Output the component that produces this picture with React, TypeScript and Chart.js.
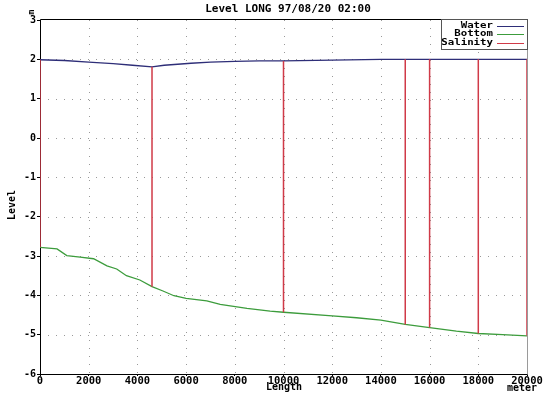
import React, { useEffect, useRef } from "react";
import { Chart, registerables } from "chart.js";

Chart.register(...registerables);

const waterX = [0, 1000, 2000, 3000, 3800, 4600, 5100, 6200, 7000, 8000, 9000, 10000, 12000, 14000, 15000, 16000, 18000, 20000];
const waterY = [1.99, 1.97, 1.93, 1.89, 1.85, 1.81, 1.85, 1.9, 1.93, 1.95, 1.96, 1.96, 1.98, 2.0, 2.0, 2.0, 2.0, 2.0];

const bottomX = [0, 700, 1100, 1650, 2200, 2750, 3150, 3550, 4100, 4600, 5050, 5500, 6000, 6850, 7400, 8500, 9450, 10000, 12000, 13000, 14000, 15000, 16000, 17100, 18000, 19000, 20000];
const bottomY = [-2.78, -2.82, -2.99, -3.03, -3.07, -3.25, -3.33, -3.5, -3.61, -3.78, -3.89, -4.01, -4.08, -4.14, -4.23, -4.33, -4.4, -4.43, -4.52, -4.57, -4.63, -4.74, -4.82, -4.91, -4.97, -5.0, -5.03];

const salinityX = [0, 4600, 10000, 15000, 16000, 18000, 20000];
const salinityTop = [1.99, 1.81, 1.96, 2.0, 2.0, 2.0, 2.0];
const salinityBottom = [-2.78, -3.78, -4.43, -4.74, -4.82, -4.97, -5.03];

const yTicks = [-6, -5, -4, -3, -2, -1, 0, 1, 2, 3];
const xTicks = [0, 2000, 4000, 6000, 8000, 10000, 12000, 14000, 16000, 18000, 20000];

const titleText = "Level LONG 97/08/20 02:00";
const legendNames = ["Water", "Bottom", "Salinity"];
const WATER = "#2e2e78";
const BOTTOM = "#3c9c3c";
const SAL = "#d03a48";
const legendColors = [WATER, BOTTOM, SAL];
const MONO = "'DejaVu Sans Mono', monospace";

export default function App() {
  const ref = useRef<HTMLCanvasElement | null>(null);
  useEffect(() => {
    if (!ref.current) return;
    const salData: any[] = [];
    salinityX.forEach((x, i) => {
      salData.push({ x, y: salinityTop[i] });
      salData.push({ x, y: salinityBottom[i] });
      if (i < salinityX.length - 1) salData.push({ x, y: null });
    });
    const extras = {
      id: "extras",
      beforeDatasetsDraw(chart: any) {
        const { ctx, chartArea: a, scales } = chart;
        ctx.save();
        ctx.strokeStyle = "#999";
        ctx.lineWidth = 1;
        ctx.setLineDash([1, 7]);
        for (const v of yTicks) {
          if (v === -6 || v === 3) continue;
          const y = Math.round(scales.y.getPixelForValue(v)) + 0.5;
          ctx.beginPath();
          ctx.moveTo(a.left, y);
          ctx.lineTo(a.right, y);
          ctx.stroke();
        }
        for (const v of xTicks) {
          if (v === 0) continue;
          const x = Math.round(scales.x.getPixelForValue(v)) + 0.5;
          ctx.beginPath();
          ctx.moveTo(x, a.top);
          ctx.lineTo(x, a.bottom);
          ctx.stroke();
        }
        ctx.setLineDash([]);
        ctx.strokeStyle = "#000";
        const l = Math.round(a.left) + 0.5;
        const t = Math.round(a.top) - 0.5;
        const b = Math.round(a.bottom) + 0.5;
        const r = Math.round(a.right) + 0.5;
        ctx.beginPath();
        ctx.moveTo(l, t);
        ctx.lineTo(r, t);
        ctx.moveTo(l, t);
        ctx.lineTo(l, b);
        ctx.lineTo(r, b);
        ctx.stroke();
        ctx.strokeStyle = "#9a9a9a";
        ctx.beginPath();
        ctx.moveTo(r, t);
        ctx.lineTo(r, b);
        ctx.stroke();
        ctx.restore();
      },
      afterDraw(chart: any) {
        const { ctx, chartArea: a } = chart;
        ctx.save();
        ctx.fillStyle = "#000";
        ctx.font = `bold 11px ${MONO}`;
        ctx.textAlign = "center";
        ctx.textBaseline = "middle";
        ctx.fillText(titleText, 288, 9);
        // legend
        ctx.fillStyle = "#fff";
        ctx.fillRect(441, 20, a.right - 441, 30);
        ctx.strokeStyle = "#555";
        ctx.lineWidth = 1;
        ctx.strokeRect(441.5, 19.5, a.right - 441, 30);
        ctx.font = `bold 9.5px ${MONO}`;
        ctx.textAlign = "right";
        legendNames.forEach((n, i) => {
          const y = 25.5 + i * 8.5;
          ctx.fillStyle = "#000";
          ctx.save();
          ctx.translate(493, y);
          ctx.scale(1.13, 1);
          ctx.fillText(n, 0, 0);
          ctx.restore();
          ctx.strokeStyle = legendColors[i];
          ctx.beginPath();
          ctx.moveTo(497, Math.round(y) + 0.5);
          ctx.lineTo(524, Math.round(y) + 0.5);
          ctx.stroke();
        });
        // axis titles
        ctx.fillStyle = "#000";
        ctx.font = `bold 10px ${MONO}`;
        ctx.textAlign = "center";
        ctx.fillText("Length", 284, 387.5);
        ctx.fillText("meter", 522, 388);
        ctx.save();
        ctx.translate(12, 205);
        ctx.rotate(-Math.PI / 2);
        ctx.fillText("Level", 0, 0);
        ctx.restore();
        ctx.save();
        ctx.translate(32, 12);
        ctx.rotate(-Math.PI / 2);
        ctx.font = `bold 8px ${MONO}`;
        ctx.fillText("m", 0, 0);
        ctx.restore();
        ctx.restore();
      },
    };
    const chart = new Chart(ref.current, {
      type: "line",
      data: {
        datasets: [
          {
            label: "Salinity",
            data: salData,
            borderColor: SAL,
            borderWidth: 1.5,
            pointRadius: 0,
            spanGaps: false,
            tension: 0,
          },
          {
            label: "Water",
            data: waterX.map((x, i) => ({ x, y: waterY[i] })),
            borderColor: WATER,
            borderWidth: 1.3,
            pointRadius: 0,
            tension: 0,
          },
          {
            label: "Bottom",
            data: bottomX.map((x, i) => ({ x, y: bottomY[i] })),
            borderColor: BOTTOM,
            borderWidth: 1.3,
            pointRadius: 0,
            tension: 0,
          },
        ],
      },
      options: {
        animation: false,
        responsive: false,
        devicePixelRatio: 1,
        layout: { padding: { top: 20, right: 18, left: 0, bottom: 0 } },
        plugins: { legend: { display: false }, tooltip: { enabled: false }, title: { display: false } },
        scales: {
          x: {
            type: "linear",
            min: 0,
            max: 20000,
            afterFit: (s: any) => {
              s.height = 19;
            },
            afterBuildTicks: (s: any) => {
              s.ticks = xTicks.map((v) => ({ value: v }));
            },
            ticks: {
              font: { family: MONO, size: 10.5, weight: "bold" },
              color: "#000",
              padding: -1,
              maxRotation: 0,
              autoSkip: false,
              callback: (v: any) => String(v),
            },
            grid: { drawOnChartArea: false, tickLength: 2, color: "#000" },
            border: { display: false },
          },
          y: {
            type: "linear",
            min: -6,
            max: 3,
            afterFit: (s: any) => {
              s.width = 40;
            },
            afterBuildTicks: (s: any) => {
              s.ticks = yTicks.map((v) => ({ value: v }));
            },
            ticks: {
              font: { family: MONO, size: 10, weight: "bold" },
              color: "#000",
              padding: 1,
              autoSkip: false,
              callback: (v: any) => String(v),
            },
            grid: { drawOnChartArea: false, tickLength: 3, color: "#000" },
            border: { display: false },
          },
        },
      },
      plugins: [extras],
    });
    return () => chart.destroy();
  }, []);
  return (
    <div style={{ position: "fixed", left: 0, top: 0, width: 545, height: 393, background: "#fff" }}>
      <canvas ref={ref} width={545} height={393} style={{ width: 545, height: 393, display: "block" }} />
    </div>
  );
}
